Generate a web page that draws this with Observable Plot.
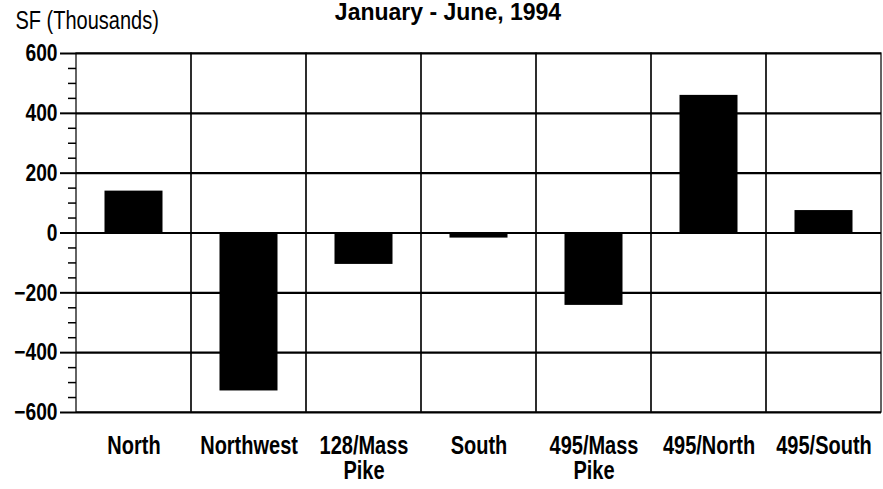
<!DOCTYPE html>
<html>
<head>
<meta charset="utf-8">
<script src="https://cdn.jsdelivr.net/npm/d3@7"></script>
<script src="https://cdn.jsdelivr.net/npm/@observablehq/plot@0.6"></script>
<style>
  html, body { margin: 0; padding: 0; background: #fff; }
  #chart svg { display: block; }
</style>
</head>
<body>
<div id="chart"></div>
<script>
// Data
const categories = ["North", "Northwest", "128/Mass\nPike", "South", "495/Mass\nPike", "495/North", "495/South"];
const values = [140, -528, -105, -17, -242, 460, 75];
const majorTicks = [-600, -400, -200, 0, 200, 400, 600];
const minorTicks = [-550, -500, -450, -350, -300, -250, -150, -100, -50, 50, 100, 150, 250, 300, 350, 450, 500, 550];
const titleText = "January - June, 1994";
const yUnitText = "SF (Thousands)";

const rows = categories.map((c, i) => ({category: c, value: values[i]}));
const FONT = "'Liberation Sans', Arial, sans-serif";

const chart = Plot.plot({
  width: 883,
  height: 489,
  marginLeft: 76,
  marginRight: 2,
  marginTop: 53,
  marginBottom: 77,
  style: {fontFamily: FONT, background: "#fff", color: "#000"},
  x: {domain: categories, padding: 0},
  y: {domain: [-600, 600]},
  marks: [
    Plot.cell(categories, {x: d => d, fill: "none", stroke: "#111", strokeWidth: 1.3}),
    Plot.ruleY(majorTicks, {stroke: "#000", strokeWidth: 2.2}),
    Plot.barY(rows, {x: "category", y: "value", fill: "#000", insetLeft: 28.5, insetRight: 28.5}),
    Plot.ruleY([0], {stroke: "#000", strokeWidth: 2.2}),
    Plot.axisY(minorTicks, {tickSize: 8, tickFormat: () => "", label: null, strokeWidth: 1.5}),
    Plot.axisY(majorTicks, {tickSize: 16, tickPadding: 3, label: null, fontSize: 24, fontWeight: "bold", strokeWidth: 2}),
    Plot.axisX({tickSize: 0, tickPadding: 24, label: null, fontSize: 25, fontWeight: "bold", lineHeight: 1.0}),
    Plot.text([titleText], {frameAnchor: "top", dx: -31, dy: -34, lineAnchor: "bottom", fontSize: 23, fontWeight: "bold"}),
    Plot.text([yUnitText], {frameAnchor: "top-left", textAnchor: "start", dx: -61, dy: -25, lineAnchor: "bottom", fontSize: 25})
  ]
});
document.getElementById("chart").appendChild(chart);

// Emulate a condensed face (Arial Narrow ≈ Arial scaled horizontally),
// scaling each text about its own anchor point in its own user space.
chart.querySelectorAll("text").forEach(t => {
  if (t.textContent === titleText || t.textContent === "") return;
  const s = 0.8;
  const bb = t.getBBox();
  const anchor = getComputedStyle(t).textAnchor;
  const ax = anchor === "middle" ? bb.x + bb.width / 2 : anchor === "end" ? bb.x + bb.width : bb.x;
  const tr = t.getAttribute("transform") || "";
  t.setAttribute("transform", `${tr} translate(${ax},0) scale(${s},1) translate(${-ax},0)`);
});
</script>
</body>
</html>
